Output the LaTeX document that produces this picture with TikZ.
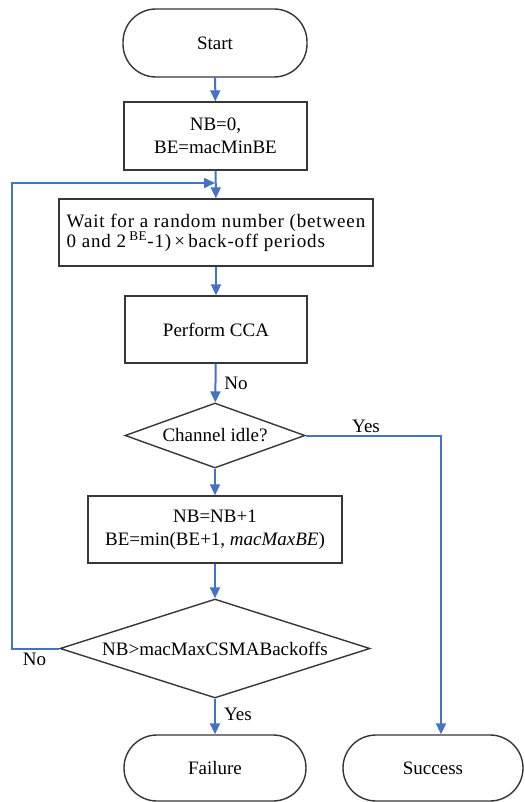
\documentclass[tikz,border=0pt]{standalone}
\usepackage{fontspec}
\setmainfont{Liberation Serif}
\newfontfamily\widerserif[LetterSpace=4.5]{Liberation Serif}
\usetikzlibrary{shapes.geometric,arrows.meta}
\definecolor{flowblue}{RGB}{68,114,196}
\definecolor{boxgray}{RGB}{55,55,55}
\begin{document}
\begin{tikzpicture}[x=1pt,y=-1pt,
  every node/.style={font=\fontsize{19}{23}\selectfont},
  procbox/.style={draw=boxgray,line width=1.4pt,rectangle,align=center,inner sep=0pt},
  termbox/.style={draw=boxgray,line width=1.4pt,rectangle,rounded corners=33pt,inner sep=0pt},
  decbox/.style={draw=boxgray,line width=1.4pt,diamond,inner sep=0pt,aspect=2.8},
  flow/.style={draw=flowblue,line width=2pt,-{Triangle[length=11pt,width=10pt]}},
  lbl/.style={inner sep=0pt}]
\useasboundingbox (0,0) rectangle (524,802);
\fill[white] (0,0) rectangle (524,802);

% terminals
\node[termbox,minimum width=184pt,minimum height=68pt] (start) at (215,43) {Start};
\node[termbox,minimum width=182pt,minimum height=66pt] (fail) at (215,768) {Failure};
\node[termbox,minimum width=180pt,minimum height=66pt] (succ) at (433,768) {Success};

% process boxes
\node[procbox,minimum width=183pt,minimum height=68pt] (init) at (215.5,136) {NB=0,\\BE=macMinBE};
\node[procbox,minimum width=314pt,minimum height=67pt,align=left,
      font=\widerserif\fontsize{19}{20}\selectfont] (wait) at (216,232.5)
  {Wait for a random number (between\\0 and 2\,\textsuperscript{BE}-1)\,×\,back-off periods};
\node[procbox,minimum width=182pt,minimum height=67pt] (cca) at (216,329.5) {Perform CCA};
\node[procbox,minimum width=254pt,minimum height=67pt] (inc) at (215,529.5)
  {NB=NB+1\\BE=min(BE+1, \textit{macMaxBE})};

% decisions
\node[decbox,minimum width=180pt,minimum height=65pt] (idle) at (215,435.5) {Channel idle?};
\node[decbox,minimum width=310pt,minimum height=99pt] (max) at (215,648.5) {NB>macMaxCSMABackoffs};

% junction points
\coordinate (loopin) at (215,183);
\coordinate (loopleft) at (12,183);
\coordinate (succturn) at (441,435.5);

% connectors
\draw[flow] (start) -- (init);
\draw[flow] (init) -- (wait);
\draw[flow] (wait) -- (cca);
\draw[flow] (cca) -- (idle) node[lbl,pos=0.5,right=8pt] {No};
\draw[flow] (idle) -- (inc);
\draw[flow] (inc) -- (max);
\draw[flow] (max) -- (fail) node[lbl,pos=0.45,right=8pt] {Yes};
\draw[flow] (idle.east) -- (succturn) -- (succturn |- succ.north);
\draw[flow] (max.west) -| (loopleft) -- (loopin);

% branch labels
\node[lbl] (yeslbl) at (366,426) {Yes};
\node[lbl] (nolbl) at (34.5,659) {No};
\end{tikzpicture}
\end{document}
